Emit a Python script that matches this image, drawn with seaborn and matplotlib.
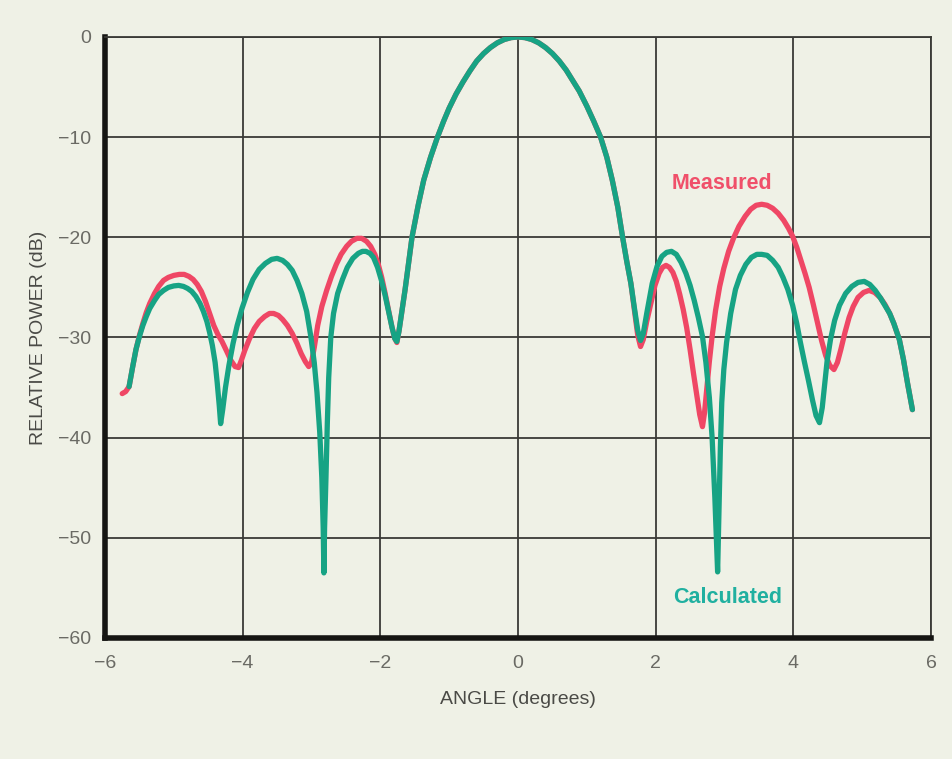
import matplotlib
matplotlib.use("Agg")
import matplotlib.pyplot as plt
import seaborn as sns
import pandas as pd

# ---- data (angle in degrees, power in dB) ----
# main lobe, where measured and calculated curves coincide
main_x = [-1.73, -1.70, -1.64, -1.59, -1.54, -1.49, -1.45, -1.37, -1.27, -1.17,
          -1.08, -1.00, -0.90, -0.80, -0.70, -0.60, -0.50, -0.40, -0.30, -0.20,
          -0.10, 0.00, 0.10, 0.20, 0.30, 0.40, 0.50, 0.60, 0.70, 0.80,
          0.89, 1.00, 1.10, 1.20, 1.29, 1.37, 1.45, 1.52, 1.58, 1.64]
main_y = [-29.4, -28.0, -25.2, -22.6, -20.0, -18.2, -16.8, -14.3, -12.0, -10.0,
          -8.4, -7.1, -5.7, -4.5, -3.4, -2.4, -1.65, -1.05, -0.58, -0.25,
          -0.06, 0.0, -0.06, -0.25, -0.58, -1.05, -1.65, -2.4, -3.3, -4.4,
          -5.4, -6.9, -8.4, -10.0, -12.0, -14.3, -17.0, -20.0, -22.4, -24.6]

# calculated, left side lobes
calc_left_x = [-5.65, -5.60, -5.55, -5.50, -5.45, -5.40, -5.35, -5.28, -5.22, -5.15,
               -5.08, -5.00, -4.93, -4.86, -4.80, -4.74, -4.68, -4.62, -4.57, -4.52,
               -4.48, -4.44, -4.40, -4.37, -4.34, -4.32, -4.29, -4.25, -4.20, -4.14,
               -4.08, -4.01, -3.93, -3.85, -3.76, -3.67, -3.58, -3.50, -3.42, -3.35,
               -3.28, -3.21, -3.14, -3.07, -3.01, -2.96, -2.92, -2.88, -2.85, -2.83,
               -2.82, -2.81, -2.79, -2.77, -2.75, -2.72, -2.68, -2.62, -2.55, -2.48,
               -2.40, -2.32, -2.26, -2.21, -2.15, -2.10, -2.04, -1.98, -1.93, -1.88,
               -1.83, -1.79, -1.76]
calc_left_y = [-34.9, -33.0, -31.2, -29.9, -28.8, -27.9, -27.1, -26.3, -25.7, -25.3,
               -25.0, -24.85, -24.8, -24.9, -25.1, -25.4, -25.9, -26.6, -27.4, -28.4,
               -29.5, -30.8, -32.5, -34.5, -36.8, -38.6, -37.2, -35.0, -32.8, -30.6,
               -28.8, -27.1, -25.5, -24.2, -23.2, -22.6, -22.2, -22.1, -22.3, -22.7,
               -23.3, -24.3, -25.6, -27.4, -29.9, -32.5, -35.5, -39.5, -44.0, -49.0,
               -53.5, -49.0, -44.0, -38.5, -34.0, -30.0, -27.6, -25.6, -24.2, -23.0,
               -22.1, -21.6, -21.4, -21.4, -21.6, -22.0, -23.0, -24.4, -25.8, -27.4,
               -29.0, -30.1, -30.4]

# calculated, right side lobes
calc_right_x = [1.69, 1.74, 1.78, 1.82, 1.87, 1.95, 2.02, 2.09, 2.16, 2.23,
                2.30, 2.37, 2.44, 2.50, 2.56, 2.62, 2.68, 2.73, 2.78, 2.82,
                2.86, 2.90, 2.92, 2.94, 2.96, 2.99, 3.03, 3.09, 3.16, 3.23,
                3.31, 3.39, 3.47, 3.54, 3.62, 3.70, 3.78, 3.85, 3.92, 3.99,
                4.05, 4.10, 4.16, 4.22, 4.28, 4.33, 4.38, 4.42, 4.45, 4.49,
                4.54, 4.60, 4.67, 4.76, 4.85, 4.94, 5.03, 5.11, 5.19, 5.27,
                5.34, 5.40, 5.46, 5.54, 5.60, 5.66, 5.73]
calc_right_y = [-27.0, -29.3, -30.3, -29.6, -27.6, -24.6, -22.9, -21.9, -21.5, -21.4,
                -21.7, -22.5, -23.6, -24.8, -26.3, -28.0, -29.9, -32.5, -36.0, -40.0,
                -46.0, -53.4, -47.0, -41.0, -36.5, -33.2, -30.5, -27.6, -25.2, -23.8,
                -22.7, -22.0, -21.7, -21.7, -21.8, -22.3, -23.0, -24.0, -25.2, -26.8,
                -28.6, -30.4, -32.4, -34.3, -36.3, -37.8, -38.5, -37.0, -35.0, -32.4,
                -30.2, -28.3, -26.8, -25.6, -24.9, -24.5, -24.4, -24.7, -25.3, -26.1,
                -26.9, -27.6, -28.6, -30.2, -32.2, -34.6, -37.2]

# measured, left side lobes
meas_left_x = [-5.75, -5.70, -5.65, -5.60, -5.55, -5.50, -5.45, -5.40, -5.35, -5.28,
               -5.22, -5.15, -5.08, -5.00, -4.92, -4.85, -4.78, -4.72, -4.66, -4.60,
               -4.54, -4.48, -4.42, -4.36, -4.30, -4.23, -4.17, -4.11, -4.06, -4.02,
               -3.97, -3.90, -3.83, -3.76, -3.68, -3.61, -3.55, -3.48, -3.42, -3.35,
               -3.28, -3.21, -3.15, -3.09, -3.04, -3.00, -2.96, -2.91, -2.85, -2.78,
               -2.71, -2.64, -2.57, -2.49, -2.42, -2.34, -2.27, -2.20, -2.14, -2.08,
               -2.03, -1.98, -1.93, -1.88, -1.83, -1.79, -1.76]
meas_left_y = [-35.6, -35.4, -34.9, -33.0, -31.2, -29.8, -28.6, -27.5, -26.6, -25.6,
               -24.9, -24.3, -24.0, -23.8, -23.7, -23.7, -23.9, -24.2, -24.7, -25.4,
               -26.4, -27.6, -28.8, -29.7, -30.4, -31.4, -32.3, -32.9, -33.0, -32.3,
               -31.3, -30.1, -29.1, -28.4, -27.9, -27.6, -27.6, -27.8, -28.2, -28.8,
               -29.6, -30.6, -31.6, -32.4, -32.9, -32.5, -31.0, -28.8, -26.9, -25.3,
               -23.9, -22.7, -21.7, -20.9, -20.4, -20.1, -20.1, -20.4, -20.9, -21.7,
               -22.7, -24.0, -25.6, -27.3, -29.0, -30.1, -30.5]

# measured, right side lobes
meas_right_x = [1.69, 1.74, 1.78, 1.82, 1.87, 1.93, 1.99, 2.05, 2.10, 2.15,
                2.20, 2.25, 2.30, 2.35, 2.40, 2.45, 2.50, 2.55, 2.60, 2.64,
                2.68, 2.71, 2.74, 2.78, 2.82, 2.87, 2.93, 2.99, 3.06, 3.13,
                3.21, 3.30, 3.38, 3.46, 3.54, 3.62, 3.70, 3.78, 3.86, 3.93,
                3.99, 4.05, 4.11, 4.17, 4.23, 4.29, 4.35, 4.41, 4.47, 4.53,
                4.59, 4.64, 4.69, 4.75, 4.81, 4.87, 4.94, 5.02, 5.10, 5.18,
                5.26, 5.33, 5.40, 5.46, 5.54, 5.60, 5.66, 5.73]
meas_right_y = [-27.2, -29.8, -30.9, -30.2, -28.4, -26.6, -24.8, -23.6, -23.0, -22.8,
                -23.0, -23.5, -24.4, -25.7, -27.2, -29.0, -31.2, -33.6, -35.9, -37.7,
                -38.9, -37.5, -35.3, -32.4, -29.9, -27.3, -24.9, -23.1, -21.4, -20.1,
                -18.9, -17.9, -17.2, -16.8, -16.7, -16.8, -17.1, -17.6, -18.3, -19.1,
                -19.9, -21.0, -22.3, -23.6, -25.0, -26.7, -28.5, -30.3, -31.8, -32.8,
                -33.2, -32.5, -31.2, -29.5, -28.0, -26.9, -26.0, -25.5, -25.3, -25.5,
                -26.0, -26.7, -27.6, -28.6, -30.2, -32.2, -34.6, -37.2]

x_ticks = [-6, -4, -2, 0, 2, 4, 6]
x_tick_labels = ["\u22126", "\u22124", "\u22122", "0", "2", "4", "6"]
y_ticks = [0, -10, -20, -30, -40, -50, -60]
y_tick_labels = ["0", "\u221210", "\u221220", "\u221230", "\u221240", "\u221250", "\u221260"]

calc_x = calc_left_x + main_x + calc_right_x
calc_y = calc_left_y + main_y + calc_right_y
meas_x = meas_left_x + main_x + meas_right_x
meas_y = meas_left_y + main_y + meas_right_y
assert len(calc_x) == len(calc_y) and len(meas_x) == len(meas_y)

BG = "#eff1e6"
RED = "#ef4765"
GREEN = "#17a384"

sns.set_theme(style="white")
plt.rcParams["font.family"] = ["Liberation Sans", "DejaVu Sans"]

fig = plt.figure(figsize=(9.52, 7.59), dpi=100, facecolor=BG)
ax = fig.add_axes([105 / 952, 1 - 638 / 759, (931 - 105) / 952, (638 - 37) / 759])
ax.set_facecolor(BG)

meas_df = pd.DataFrame({"angle": meas_x, "power": meas_y})
calc_df = pd.DataFrame({"angle": calc_x, "power": calc_y})

sns.lineplot(data=meas_df, x="angle", y="power", ax=ax, color=RED, lw=3.8,
             sort=False, estimator=None, solid_capstyle="round",
             solid_joinstyle="round", zorder=3)
sns.lineplot(data=calc_df, x="angle", y="power", ax=ax, color=GREEN, lw=3.8,
             sort=False, estimator=None, solid_capstyle="round",
             solid_joinstyle="round", zorder=4)

ax.set_xlim(-6, 6)
ax.set_ylim(-60, 0)
ax.set_xticks(x_ticks)
ax.set_xticklabels(x_tick_labels)
ax.set_yticks(y_ticks)
ax.set_yticklabels(y_tick_labels)
ax.tick_params(axis="both", length=0, labelsize=14, colors="#6a6a64")
ax.tick_params(axis="x", pad=12)
ax.tick_params(axis="y", pad=10)

ax.grid(True, color="#3a3a36", lw=1.3)
ax.set_axisbelow(True)
for side in ["left", "bottom"]:
    ax.spines[side].set_linewidth(4)
    ax.spines[side].set_color("#151512")
for side in ["top", "right"]:
    ax.spines[side].set_linewidth(1.3)
    ax.spines[side].set_color("#3a3a36")

ax.set_xlabel("ANGLE (degrees)", fontsize=14, color="#4a4a46", labelpad=14)
ax.set_ylabel("RELATIVE POWER (dB)", fontsize=14, color="#4a4a46", labelpad=8)

ax.text(2.97, -14.6, "Measured", color="#f0506a", fontsize=15.5, fontweight="bold",
        ha="center", va="center")
ax.text(3.05, -56.0, "Calculated", color="#20b0a0", fontsize=15.5,
        fontweight="bold", ha="center", va="center")

fig.savefig("out.png", dpi=100, facecolor=BG)
